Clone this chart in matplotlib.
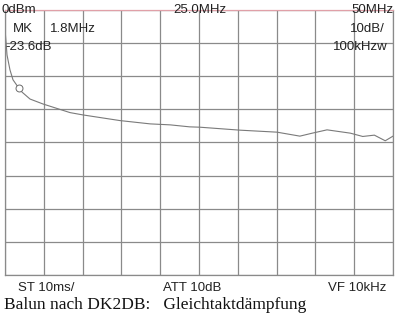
import matplotlib
matplotlib.use("Agg")
import matplotlib.pyplot as plt

# trace (MHz, dBm)
freq = [0.0, 0.06, 0.26, 0.64, 1.03, 1.6, 2.19, 3.22, 4.9, 8.38, 10.05,
        14.8, 18.7, 21.3, 23.8, 25.1, 30.3, 35.05, 38.0, 39.6, 41.5,
        44.5, 46.1, 47.6, 49.0, 50.0]
level = [-5.0, -7.6, -13.6, -18.1, -21.1, -23.0, -24.8, -26.9, -28.4,
         -31.0, -31.7, -33.4, -34.4, -34.7, -35.3, -35.4, -36.3, -36.9,
         -38.1, -37.2, -36.2, -37.2, -38.2, -37.8, -39.5, -38.1]

marker_f = 1.8
marker_db = -23.6

x_ticks = [0, 5, 10, 15, 20, 25, 30, 35, 40, 45, 50]
y_ticks = [0, -10, -20, -30, -40, -50, -60, -70, -80]

fig = plt.figure(figsize=(4.0, 3.19), dpi=100)
ax = fig.add_axes([0.0125, 0.138, 0.97, 0.831])

ax.set_xlim(0, 50)
ax.set_ylim(-80, 0)
ax.set_xticks(x_ticks)
ax.set_yticks(y_ticks)
ax.grid(True, color="#8a8a8a", linewidth=0.9)
ax.tick_params(length=0, labelbottom=False, labelleft=False)
for side in ["left", "right", "bottom"]:
    ax.spines[side].set_color("#8a8a8a")
    ax.spines[side].set_linewidth(0.9)
ax.spines["top"].set_color("#e0a0a8")
ax.spines["top"].set_linewidth(0.9)

ax.plot(freq, level, color="#7a7a7a", linewidth=0.8)
ax.plot([marker_f], [marker_db], "o", markersize=5, markerfacecolor="white",
        markeredgecolor="#6a6a6a", markeredgewidth=0.7)

sans = dict(family="Liberation Sans", fontsize=9.5, color="#222222")

# header readouts
fig.text(0.005, 0.988, "0dBm", ha="left", va="top", **sans)
fig.text(0.50, 0.988, "25.0MHz", ha="center", va="top", **sans)
fig.text(0.985, 0.988, "50MHz", ha="right", va="top", **sans)
fig.text(0.033, 0.928, "MK", ha="left", va="top", **sans)
fig.text(0.125, 0.928, "1.8MHz", ha="left", va="top", **sans)
fig.text(0.013, 0.872, "-23.6dB", ha="left", va="top", **sans)
fig.text(0.962, 0.928, "10dB/", ha="right", va="top", **sans)
fig.text(0.97, 0.872, "100kHzw", ha="right", va="top", **sans)

# footer readouts
fig.text(0.045, 0.117, "ST 10ms/", ha="left", va="top", **sans)
fig.text(0.408, 0.117, "ATT 10dB", ha="left", va="top", **sans)
fig.text(0.965, 0.117, "VF 10kHz", ha="right", va="top", **sans)

fig.text(0.01, 0.07, "Balun nach DK2DB:   Gleichtaktdämpfung", ha="left",
         va="top", family="Liberation Serif", fontsize=12.5, color="#111111")

fig.savefig("out.png", dpi=100, facecolor="white")
